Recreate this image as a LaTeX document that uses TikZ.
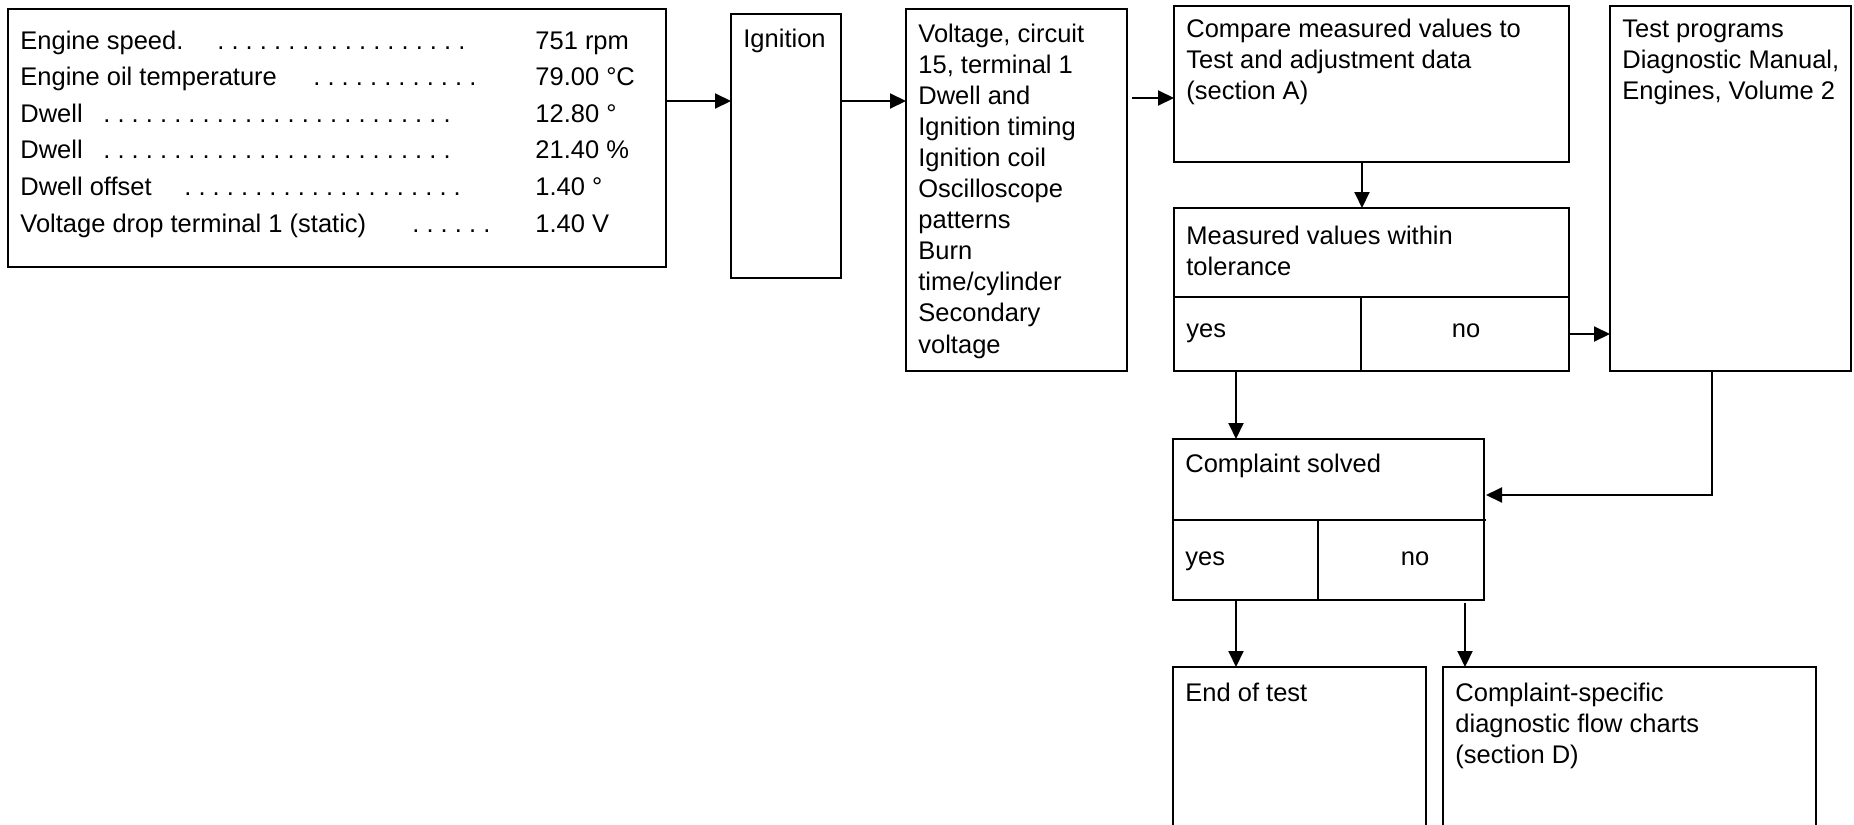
\documentclass[tikz,border=0pt]{standalone}
\usepackage{fontspec}
\setmainfont{Liberation Sans}
\usetikzlibrary{arrows.meta}
\frenchspacing
\begin{document}
\begin{tikzpicture}[x=0.5pt,y=-0.5pt,
  box/.style={draw, line width=1pt, inner sep=0pt, outer sep=0pt, anchor=north west},
  arr/.style={line width=1pt, -{Triangle[length=8pt,width=7.5pt]}},
  ln/.style={line width=1pt},
  txt/.style={anchor=base west, inner sep=0pt, font=\fontsize{12.75pt}{15.55pt}\selectfont},
  ctxt/.style={txt, anchor=base},
]
\useasboundingbox (0,0) rectangle (1854,825);

% boxes
\node[box, minimum width=329pt, minimum height=129pt] (box1) at (8,9) {};
\node[box, minimum width=55pt, minimum height=132pt] (ign) at (731,14) {};
\node[box, minimum width=110.5pt, minimum height=181pt] (volt) at (906,9) {};
\node[box, minimum width=197.5pt, minimum height=78pt] (comp) at (1174,6) {};
\node[box, minimum width=197.5pt, minimum height=81.5pt] (meas) at (1174,208) {};
\node[box, minimum width=120.5pt, minimum height=182.5pt] (test) at (1610,6) {};
\node[box, minimum width=155.5pt, minimum height=80.5pt] (solv) at (1173,439) {};
\node[box, minimum width=126.5pt, minimum height=96.5pt] (endt) at (1173,667) {};
\node[box, minimum width=186.5pt, minimum height=96.5pt] (spec) at (1443,667) {};

% dividers
\draw[ln] (meas.west |- 0,297) -- (meas.east |- 0,297);
\draw[ln] (1361,297) -- (meas.south -| 1361,0);
\draw[ln] (solv.west |- 0,520) -- ([xshift=1pt]solv.east |- 0,520);
\draw[ln] (1318,520) -- (solv.south -| 1318,0);

% box 1 texts
\node[txt] (r1l) at (20,49) {Engine speed.};
\node[txt] (r1d) at (217,49) {. . . . . . . . . . . . . . . . . .};
\node[txt] (r1v) at (535,49) {751 rpm};
\node[txt] (r2l) at (20,85.6) {Engine oil temperature};
\node[txt] (r2d) at (313,85.6) {. . . . . . . . . . . .};
\node[txt] (r2v) at (535,85.6) {79.00 °C};
\node[txt] (r3l) at (20,122.2) {Dwell};
\node[txt] (r3d) at (103,122.2) {. . . . . . . . . . . . . . . . . . . . . . . . .};
\node[txt] (r3v) at (535,122.2) {12.80 °};
\node[txt] (r4l) at (20,158.8) {Dwell};
\node[txt] (r4d) at (103,158.8) {. . . . . . . . . . . . . . . . . . . . . . . . .};
\node[txt] (r4v) at (535,158.8) {21.40 \%};
\node[txt] (r5l) at (20,195.4) {Dwell offset};
\node[txt] (r5d) at (184,195.4) {. . . . . . . . . . . . . . . . . . . .};
\node[txt] (r5v) at (535,195.4) {1.40 °};
\node[txt] (r6l) at (20,232) {Voltage drop terminal 1 (static)};
\node[txt] (r6d) at (412,232) {. . . . . .};
\node[txt] (r6v) at (535,232) {1.40 V};

% other texts
\node[txt] (igntxt) at (743,47) {Ignition};
\node[txt] (volttxt) at (918,42) {\parbox[t]{120pt}{\raggedright Voltage, circuit\\15, terminal 1\\Dwell and\\Ignition timing\\Ignition coil\\Oscilloscope\\patterns\\Burn\\time/cylinder\\Secondary\\voltage}};
\node[txt] (comptxt) at (1186,37) {\parbox[t]{200pt}{\raggedright Compare measured values to\\Test and adjustment data\\(section A)}};
\node[txt] (meastxt) at (1186,244) {\parbox[t]{200pt}{\raggedright Measured values within\\tolerance}};
\node[txt] (measyes) at (1186,337) {yes};
\node[ctxt] (measno) at (1466,337) {no};
\node[txt] (testtxt) at (1622,37) {\parbox[t]{120pt}{\raggedright Test programs\\Diagnostic Manual,\\Engines, Volume 2}};
\node[txt] (solvtxt) at (1185,472) {Complaint solved};
\node[txt] (solvyes) at (1185,565) {yes};
\node[ctxt] (solvno) at (1415,565) {no};
\node[txt] (endtxt) at (1185,701) {End of test};
\node[txt] (spectxt) at (1455,701) {\parbox[t]{190pt}{\raggedright Complaint-specific\\diagnostic flow charts\\(section D)}};

% connectors
\coordinate (yA) at (0,101);
\coordinate (yB) at (0,98);
\coordinate (yC) at (0,334);
\coordinate (yD) at (0,495);
\draw[arr] (box1.east |- yA) -- (ign.west |- yA);
\draw[arr] (ign.east |- yA) -- (volt.west |- yA);
\draw[arr] ([xshift=2.5pt]volt.east |- yB) -- (comp.west |- yB);
\draw[arr] (comp.south -| 1362,0) -- (meas.north -| 1362,0);
\draw[arr] (meas.east |- yC) -- (test.west |- yC);
\draw[arr] (meas.south -| 1236,0) -- (solv.north -| 1236,0);
\draw[arr] (test.south -| 1712,0) |- ([xshift=1pt]solv.east |- yD);
\draw[arr] (solv.south -| 1236,0) -- (endt.north -| 1236,0);
\draw[arr] ([yshift=-1.5pt]solv.south -| 1465,0) -- (spec.north -| 1465,0);
\end{tikzpicture}
\end{document}
